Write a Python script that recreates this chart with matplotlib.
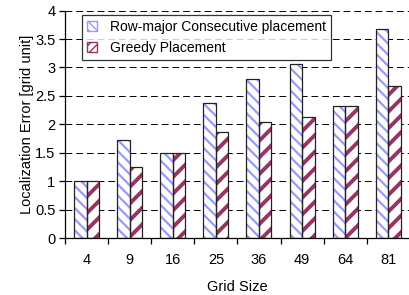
import matplotlib
matplotlib.use("Agg")
import matplotlib.pyplot as plt
from matplotlib.patches import Patch
import numpy as np

categories = ["4", "9", "16", "25", "36", "49", "64", "81"]
row_major = [1.0, 1.72, 1.5, 2.37, 2.8, 3.07, 2.33, 3.68]
greedy = [1.0, 1.25, 1.5, 1.86, 2.04, 2.13, 2.33, 2.68]
series_names = ["Row-major Consecutive placement", "Greedy Placement"]

plt.rcParams['font.family'] = ['Liberation Sans', 'DejaVu Sans']
fig = plt.figure(figsize=(4.09, 2.95), dpi=100)
ax = fig.add_axes([0.159, 0.193, 0.843, 0.771])

x = np.arange(len(categories))
w = 0.29
blue_hatch = '#9999ff'
red_hatch = '#993366'
blue_pat = '\\\\\\'
red_pat = '//'

with plt.rc_context({'hatch.linewidth': 1.6}):
    ax.bar(x - w/2, row_major, w, color='white', edgecolor=blue_hatch, hatch=blue_pat, linewidth=0, zorder=2)
with plt.rc_context({'hatch.linewidth': 2.8}):
    ax.bar(x + w/2, greedy, w, color='white', edgecolor=red_hatch, hatch=red_pat, linewidth=0, zorder=2)
ax.bar(x - w/2, row_major, w, fill=False, edgecolor='#222222', linewidth=0.9, zorder=3)
ax.bar(x + w/2, greedy, w, fill=False, edgecolor='#222222', linewidth=0.9, zorder=3)

ax.set_xlim(-0.5, len(categories) - 0.5)
ax.set_ylim(0, 4)
ax.set_yticks(np.arange(0, 4.01, 0.5))
ax.set_yticklabels(["0", "0.5", "1", "1.5", "2", "2.5", "3", "3.5", "4"])
ax.set_xticks(x)
ax.set_xticklabels(categories)
ax.set_xticks(np.arange(-0.5, len(categories) - 0.4, 1), minor=True)
ax.tick_params(axis='x', which='major', length=0, labelsize=10.5, pad=11)
ax.tick_params(axis='x', which='minor', length=4, width=0.9, direction='out')
ax.tick_params(axis='y', length=4, width=0.9, labelsize=10.5, direction='out', pad=3)
for s in ['top', 'right']:
    ax.spines[s].set_visible(False)
ax.spines['left'].set_linewidth(0.9)
ax.spines['bottom'].set_linewidth(0.9)
ax.yaxis.grid(True, linestyle=(0, (7, 4)), color='black', linewidth=0.7, zorder=0)
ax.set_axisbelow(True)
ax.set_ylabel("Localization Error [grid unit]", fontsize=10.5, labelpad=1)
ax.set_xlabel("Grid Size", fontsize=10.5, labelpad=9)

with plt.rc_context({'hatch.linewidth': 1.4}):
    h1 = Patch(facecolor='white', edgecolor=blue_hatch, hatch='\\\\\\\\')
with plt.rc_context({'hatch.linewidth': 2.0}):
    h2 = Patch(facecolor='white', edgecolor=red_hatch, hatch='////')
leg = ax.legend([h1, h2], series_names, loc='upper left', bbox_to_anchor=(0.049, 0.981),
                borderaxespad=0, fontsize=10, frameon=True, fancybox=False, edgecolor='black',
                handlelength=0.75, handleheight=0.75, borderpad=0.35, labelspacing=0.5,
                handletextpad=0.9)
leg.get_frame().set_linewidth(0.9)

fig.savefig("out.png", dpi=100)
